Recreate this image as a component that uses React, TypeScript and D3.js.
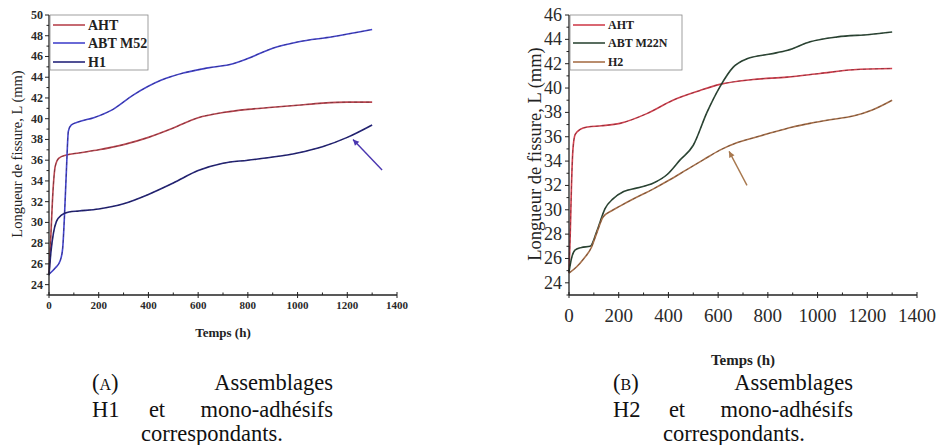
import React from "react";
import * as d3 from "d3";

// ---------- data (panel A) ----------
const A_AHT_T = [0, 8, 16, 25, 40, 70, 120, 200, 300, 400, 500, 600, 700, 800, 900, 1000, 1100, 1200, 1300];
const A_AHT_V = [25, 29, 33, 35.4, 36.2, 36.5, 36.7, 37.0, 37.5, 38.2, 39.1, 40.1, 40.6, 40.9, 41.1, 41.3, 41.5, 41.6, 41.6];
const A_M52_T = [0, 25, 45, 55, 62, 70, 78, 90, 120, 180, 250, 340, 450, 540, 640, 740, 800, 900, 1000, 1140, 1300];
const A_M52_V = [25, 25.6, 26.3, 27.5, 30.5, 35, 38.8, 39.4, 39.7, 40.1, 40.8, 42.3, 43.7, 44.4, 44.9, 45.3, 45.8, 46.8, 47.4, 47.9, 48.6];
const A_H1_T = [0, 8, 18, 30, 50, 80, 120, 200, 300, 400, 500, 600, 700, 800, 900, 1000, 1100, 1200, 1300];
const A_H1_V = [24.9, 27.2, 29.0, 30.1, 30.7, 31.0, 31.1, 31.3, 31.8, 32.7, 33.8, 35.0, 35.7, 36.0, 36.3, 36.7, 37.3, 38.2, 39.4];
const A_LEGEND = ["AHT", "ABT M52", "H1"];
const A_ARROW = [1340, 35.05, 1223, 38.0];

// ---------- data (panel B) ----------
const B_AHT_T = [0, 5, 10, 16, 25, 45, 75, 130, 205, 313, 418, 527, 607, 740, 877, 1010, 1143, 1300];
const B_AHT_V = [24.8, 28, 32, 35, 36.2, 36.6, 36.8, 36.9, 37.1, 37.9, 39.0, 39.8, 40.3, 40.7, 40.9, 41.2, 41.5, 41.6];
const B_M22N_T = [0, 10, 25, 50, 85, 113, 145, 177, 220, 275, 340, 395, 447, 500, 555, 607, 660, 716, 810, 880, 970, 1080, 1210, 1300];
const B_M22N_V = [24.9, 26.0, 26.7, 26.9, 27.0, 28.3, 30.1, 30.9, 31.5, 31.8, 32.2, 32.9, 34.1, 35.3, 38.0, 40.1, 41.7, 42.4, 42.8, 43.1, 43.8, 44.2, 44.4, 44.6];
const B_H2_T = [0, 30, 60, 90, 110, 137, 170, 205, 260, 338, 400, 474, 540, 607, 675, 740, 809, 900, 969, 1050, 1143, 1220, 1300];
const B_H2_V = [24.8, 25.3, 26.0, 26.9, 28.0, 29.4, 29.9, 30.3, 30.9, 31.7, 32.4, 33.3, 34.1, 34.9, 35.5, 35.9, 36.3, 36.8, 37.1, 37.4, 37.7, 38.2, 39.0];
const B_LEGEND = ["AHT", "ABT M22N", "H2"];
const B_ARROW = [716, 32.0, 644, 34.8];

const X_TICKS = [0, 200, 400, 600, 800, 1000, 1200, 1400];
const X_MINOR = [100, 300, 500, 700, 900, 1100, 1300];
const Y_TITLE = "Longueur de fissure, L (mm)";
const X_TITLE = "Temps (h)";
const CAP_A = ["A", "Assemblages", "H1", "et", "mono-adhésifs", "correspondants."];
const CAP_B = ["B", "Assemblages", "H2", "et", "mono-adhésifs", "correspondants."];

const SERIF = "Liberation Serif";

type Series = { t: number[]; v: number[]; color: string; name: string };

function Panel(props: {
  x0: number; x1: number; y0: number; y1: number;
  yMin: number; yMax: number;
  series: Series[];
  arrow: number[]; arrowColor: string;
  tickFontX: number; tickFontY: number; titleFontY: number; titleFontX: number;
  yTitleX: number; xTitleY: number; xTickY: number; yTickRight: number;
  legendBox: number[]; legendFont: number; bold: boolean;
}) {
  const p = props;
  const x = d3.scaleLinear().domain([0, 1400]).range([p.x0, p.x1]);
  const y = d3.scaleLinear().domain([p.yMin, p.yMax]).range([p.y0, p.y1]);
  const yMaj = d3.range(p.yMin + 1, p.yMax + 0.1, 2);
  const yMin = d3.range(p.yMin, p.yMax, 2);
  const line = d3.line<number>().curve(d3.curveMonotoneX);
  const axisColor = "#222";
  const fw = p.bold ? "bold" : "normal";
  const [lx0, ly0, lx1, ly1] = p.legendBox;
  const legY = [ly0 + 10, ly0 + 28, ly0 + 47];
  const [at, av, ht, hv] = p.arrow;
  const ax1 = x(at), ay1 = y(av), ax2 = x(ht), ay2 = y(hv);
  const ang = Math.atan2(ay2 - ay1, ax2 - ax1);
  const hl = 6, hw = 3;
  const head = [
    [ax2, ay2],
    [ax2 - hl * Math.cos(ang) + hw * Math.sin(ang), ay2 - hl * Math.sin(ang) - hw * Math.cos(ang)],
    [ax2 - hl * Math.cos(ang) - hw * Math.sin(ang), ay2 - hl * Math.sin(ang) + hw * Math.cos(ang)],
  ];
  const cx = (p.x0 + p.x1) / 2;
  const tf = { fontFamily: SERIF };
  return (
    <g style={tf}>
      {p.series.map((s, i) => {
        const pts = s.t.map((t, k) => [x(t), y(s.v[k])] as [number, number]);
        const d = line(pts as any) || "";
        return (
          <g key={i}>
            <path d={d} fill="none" stroke={s.color} strokeWidth={1.6} />
            <path d={d} fill="none" stroke="#111" strokeWidth={0.6} strokeDasharray="3,3" opacity={0.55} />
          </g>
        );
      })}
      <line x1={ax1} y1={ay1} x2={ax2} y2={ay2} stroke={p.arrowColor} strokeWidth={1.4} />
      <polygon points={head.map((q) => q.join(",")).join(" ")} fill={p.arrowColor} />
      <line x1={p.x0} y1={p.y0} x2={p.x1} y2={p.y0} stroke={axisColor} strokeWidth={1.3} />
      <line x1={p.x0} y1={p.y0} x2={p.x0} y2={p.y1} stroke={axisColor} strokeWidth={1.3} />
      {X_TICKS.map((t) => (
        <g key={"xt" + t}>
          <line x1={x(t)} x2={x(t)} y1={p.y0 - 3} y2={p.y0 + 3} stroke={axisColor} strokeWidth={1} />
          <text x={x(t)} y={p.xTickY} textAnchor="middle" dominantBaseline="central" style={{ ...tf, fontSize: p.tickFontX, fontWeight: fw }} fill="#2a2a2a">{t}</text>
        </g>
      ))}
      {X_MINOR.map((t) => (
        <line key={"xm" + t} x1={x(t)} x2={x(t)} y1={p.y0 - 2.5} y2={p.y0} stroke={axisColor} strokeWidth={1} />
      ))}
      {yMaj.map((v) => (
        <g key={"yt" + v}>
          <line x1={p.x0 - 4} x2={p.x0} y1={y(v)} y2={y(v)} stroke={axisColor} strokeWidth={1} />
          <text x={p.yTickRight} y={y(v)} textAnchor="end" dominantBaseline="central" style={{ ...tf, fontSize: p.tickFontY, fontWeight: fw }} fill="#2a2a2a">{v}</text>
        </g>
      ))}
      {yMin.map((v) => (
        <line key={"ym" + v} x1={p.x0 - 2.5} x2={p.x0} y1={y(v)} y2={y(v)} stroke={axisColor} strokeWidth={1} />
      ))}
      <text transform={`translate(${p.yTitleX},154) rotate(-90)`} textAnchor="middle" dominantBaseline="central" style={{ ...tf, fontSize: p.titleFontY }} fill="#222">{Y_TITLE}</text>
      <text x={cx} y={p.xTitleY} textAnchor="middle" dominantBaseline="central" style={{ ...tf, fontSize: p.titleFontX, fontWeight: "bold" }} fill="#222">{X_TITLE}</text>
      <rect x={lx0} y={ly0} width={lx1 - lx0} height={ly1 - ly0} fill="white" stroke="#888" strokeWidth={0.8} />
      {p.series.map((s, i) => (
        <g key={"lg" + i}>
          <line x1={lx0 + 3} x2={lx0 + 35} y1={legY[i]} y2={legY[i]} stroke={s.color} strokeWidth={1.6} />
          <text x={lx0 + 38} y={legY[i]} dominantBaseline="central" style={{ ...tf, fontSize: p.legendFont, fontWeight: "bold" }} fill="#222">{s.name}</text>
        </g>
      ))}
    </g>
  );
}

function Caption(props: { words: string[]; left: number; right: number; etX: number; lastX: number }) {
  const { words, left, right, etX, lastX } = props;
  const st = { fontFamily: SERIF, fontSize: 22.5, fontWeight: "normal" as const };
  return (
    <g fill="#111">
      <text x={left} y={390} style={st}>(<tspan style={{ fontSize: 16 }}>{words[0]}</tspan>)</text>
      <text x={right} y={390} textAnchor="end" style={st}>{words[1]}</text>
      <text x={left} y={417} style={st}>{words[2]}</text>
      <text x={etX} y={417} textAnchor="middle" style={st}>{words[3]}</text>
      <text x={right} y={417} textAnchor="end" style={st}>{words[4]}</text>
      <text x={lastX} y={441} textAnchor="middle" style={st}>{words[5]}</text>
    </g>
  );
}

export default function App() {
  const seriesA: Series[] = [
    { t: A_AHT_T, v: A_AHT_V, color: "#b8454f", name: A_LEGEND[0] },
    { t: A_M52_T, v: A_M52_V, color: "#4444cc", name: A_LEGEND[1] },
    { t: A_H1_T, v: A_H1_V, color: "#25257a", name: A_LEGEND[2] },
  ];
  const seriesB: Series[] = [
    { t: B_AHT_T, v: B_AHT_V, color: "#d0404e", name: B_LEGEND[0] },
    { t: B_M22N_T, v: B_M22N_V, color: "#2f4a38", name: B_LEGEND[1] },
    { t: B_H2_T, v: B_H2_V, color: "#a8704a", name: B_LEGEND[2] },
  ];
  return (
    <svg width={939} height={445} style={{ position: "absolute", left: 0, top: 0, background: "white" }}>
      <rect x={0} y={0} width={939} height={445} fill="white" />
      <Panel x0={49} x1={397} y0={295} y1={15} yMin={23} yMax={50} series={seriesA}
        arrow={A_ARROW} arrowColor="#4a36b0"
        tickFontX={11} tickFontY={12} titleFontY={14.5} titleFontX={13}
        yTitleX={17} xTitleY={332} xTickY={305} yTickRight={43}
        legendBox={[50, 15, 148, 70]} legendFont={14} bold={true} />
      <Panel x0={569} x1={917} y0={295} y1={15} yMin={23} yMax={46} series={seriesB}
        arrow={B_ARROW} arrowColor="#a8784e"
        tickFontX={19} tickFontY={18} titleFontY={18.5} titleFontX={15}
        yTitleX={535} xTitleY={360} xTickY={315} yTickRight={562}
        legendBox={[570, 15, 682, 70]} legendFont={12} bold={false} />
      <Caption words={CAP_A} left={92} right={333} etX={157} lastX={212} />
      <Caption words={CAP_B} left={613} right={853} etX={677} lastX={734} />
    </svg>
  );
}
